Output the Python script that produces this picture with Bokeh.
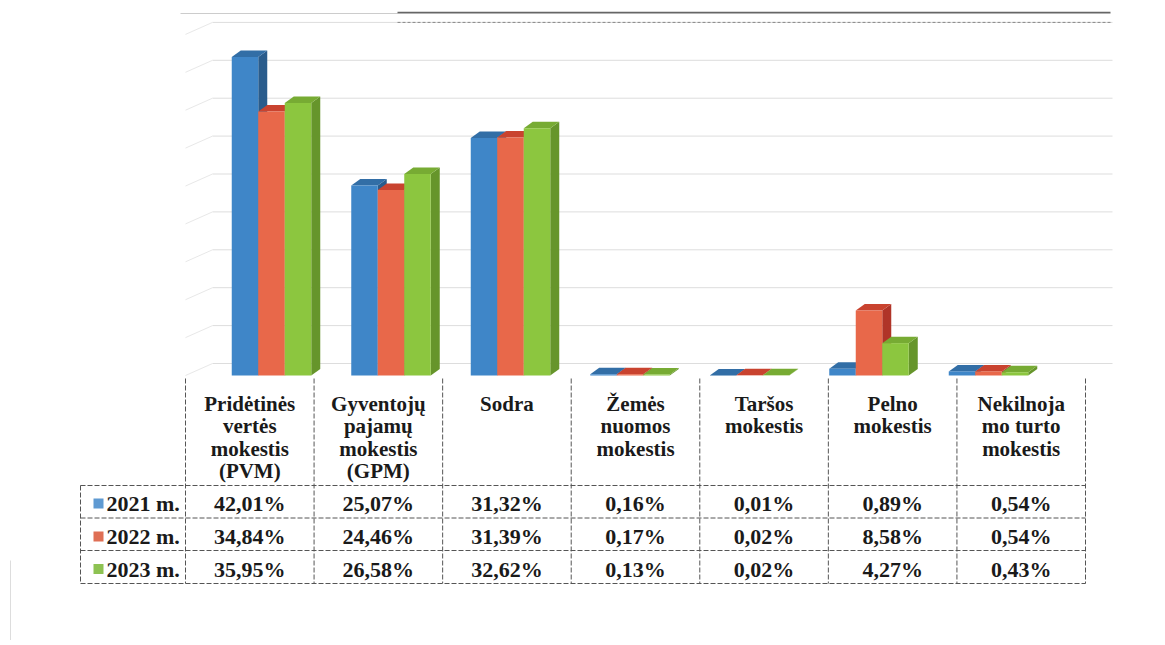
from bokeh.plotting import figure
from bokeh.models import Range1d
from bokeh.embed import file_html
from bokeh.resources import INLINE
from bokeh.core.properties import value

# ---------------- data ----------------
categories = [
    "Pridėtinės\nvertės\nmokestis\n(PVM)",
    "Gyventojų\npajamų\nmokestis\n(GPM)",
    "Sodra",
    "Žemės\nnuomos\nmokestis",
    "Taršos\nmokestis",
    "Pelno\nmokestis",
    "Nekilnoja\nmo turto\nmokestis",
]
series = ["2021 m.", "2022 m.", "2023 m."]
v2021 = [42.01, 25.07, 31.32, 0.16, 0.01, 0.89, 0.54]
v2022 = [34.84, 24.46, 31.39, 0.17, 0.02, 8.58, 0.54]
v2023 = [35.95, 26.58, 32.62, 0.13, 0.02, 4.27, 0.43]
grid_values = [0, 5, 10, 15, 20, 25, 30, 35, 40, 45]

values = [v2021, v2022, v2023]
front_colors = ["#3f86c8", "#e8684a", "#8cc63f"]
top_colors = ["#326ea6", "#c9432f", "#77ab33"]
side_colors = ["#2a5c8c", "#b03428", "#66952b"]
key_colors = ["#5f9ad2", "#df6f55", "#8dc252"]

# ---------------- layout (page pixels -> data) ----------------
W, H = 1160, 640
ORG = 0  # page offset of the figure
CAT_PX, CAT0_PX = 119.5, 271.0
PCT_PX, ZERO_PY = 7.58, 375.0


def X(px):
    return (px - CAT0_PX) / CAT_PX


def Y(py):
    return (ZERO_PY - py) / PCT_PX


p = figure(width=W, height=H,
           x_range=Range1d(X(ORG), X(ORG + W)), y_range=Range1d(Y(ORG + H), Y(ORG)),
           output_backend="svg", toolbar_location=None, min_border=0,
           x_axis_location=None, y_axis_location=None, outline_line_color=None)
p.grid.visible = False
p.background_fill_color = "white"
p.border_fill_color = "white"

FONT = value("Liberation Serif")

# scan border lines at the top / left
p.line([X(180), X(1110)], [Y(13), Y(13)], line_color="#cccccc", line_width=1)
p.line([X(397), X(1110)], [Y(12), Y(12)], line_color="#666666", line_width=1.5)
p.line([X(10), X(10)], [Y(560), Y(645)], line_color="#dddddd", line_width=1)

# ---------------- 3D walls ----------------
wall_dx = 27 / CAT_PX
wall_dy = 12 / PCT_PX
wall_l, wall_r = X(212), X(1112)
front_l = X(185)
p.multi_line(xs=[[wall_l, wall_r] for g in grid_values],
             ys=[[g + wall_dy, g + wall_dy] for g in grid_values],
             line_color="#dddddd", line_width=1)
p.multi_line(xs=[[front_l, wall_l] for g in grid_values],
             ys=[[g, g + wall_dy] for g in grid_values],
             line_color="#e8e8e8", line_width=1)
p.line([X(397), wall_r], [grid_values[-1] + wall_dy] * 2,
       line_color="#888888", line_dash="3 2", line_width=1)

# ---------------- 3D bars ----------------
bw = 26.5 / CAT_PX
dx = 9 / CAT_PX
dy = 6.5 / PCT_PX

side_xs, side_ys, side_c = [], [], []
top_xs, top_ys, top_c = [], [], []
fl, fr, ft, fc = [], [], [], []
for i in range(len(categories)):
    for j, vals in enumerate(values):
        v = vals[i]
        c = i + (j - 1) * bw
        x0, x1 = c - bw / 2, c + bw / 2
        side_xs.append([x1, x1 + dx, x1 + dx, x1])
        side_ys.append([0, dy, v + dy, v])
        side_c.append(side_colors[j])
        top_xs.append([x0, x0 + dx, x1 + dx, x1])
        top_ys.append([v, v + dy, v + dy, v])
        top_c.append(top_colors[j])
        fl.append(x0)
        fr.append(x1)
        ft.append(v)
        fc.append(front_colors[j])

p.patches(xs=side_xs, ys=side_ys, fill_color=side_c, line_color=None)
p.patches(xs=top_xs, ys=top_ys, fill_color=top_c, line_color=None)
p.quad(left=fl, right=fr, bottom=[0] * len(fl), top=ft, fill_color=fc, line_color=None)

# ---------------- data table ----------------
TBL_L, TBL_R = 185.0, 1085.0
col_w = (TBL_R - TBL_L) / len(categories)
HDR_TOP = 378
ROW_LINES = [485, 517.5, 550, 583]
ROW_CENTERS = [503, 536, 568.5]
LABEL_L = 80
line_kw = dict(line_color="#555555", line_dash="5 2", line_width=1)

p.multi_line(xs=[[X(TBL_L + k * col_w)] * 2 for k in range(len(categories) + 1)],
             ys=[[Y(HDR_TOP), Y(ROW_LINES[-1])] for k in range(len(categories) + 1)],
             **line_kw)
p.line([X(LABEL_L), X(LABEL_L)], [Y(ROW_LINES[0]), Y(ROW_LINES[-1])], **line_kw)
p.multi_line(xs=[[X(LABEL_L), X(TBL_R)] for yl in ROW_LINES],
             ys=[[Y(yl), Y(yl)] for yl in ROW_LINES], **line_kw)

# header texts
hx, hy, ht = [], [], []
for i, cat in enumerate(categories):
    cx = X(TBL_L + (i + 0.5) * col_w)
    for k, part in enumerate(cat.split("\n")):
        hx.append(cx)
        hy.append(Y(403 + 22.5 * k))
        ht.append(part)
p.text(x=hx, y=hy, text=ht, text_font=FONT, text_font_style="bold",
       text_font_size="21px", text_align="center", text_baseline="middle",
       text_color="#1a1a1a")

# values
vx, vy, vt = [], [], []
for r, vals in enumerate(values):
    for i, v in enumerate(vals):
        vx.append(X(TBL_L + (i + 0.5) * col_w))
        vy.append(Y(ROW_CENTERS[r]))
        vt.append(f"{v:.2f}".replace(".", ",") + "%")
p.text(x=vx, y=vy, text=vt, text_font=FONT, text_font_style="bold",
       text_font_size="22px", text_align="center", text_baseline="middle",
       text_color="#1a1a1a")

# row labels with legend keys
p.scatter(x=[X(98)] * 3, y=[Y(c) for c in ROW_CENTERS], marker="square", size=10,
          fill_color=key_colors, line_color=None)
p.text(x=[X(106)] * 3, y=[Y(c) for c in ROW_CENTERS], text=series, text_font=FONT,
       text_font_style="bold", text_font_size="22px", text_align="left",
       text_baseline="middle", text_color="#1a1a1a")

open("out.html", "w").write(file_html(p, INLINE))
